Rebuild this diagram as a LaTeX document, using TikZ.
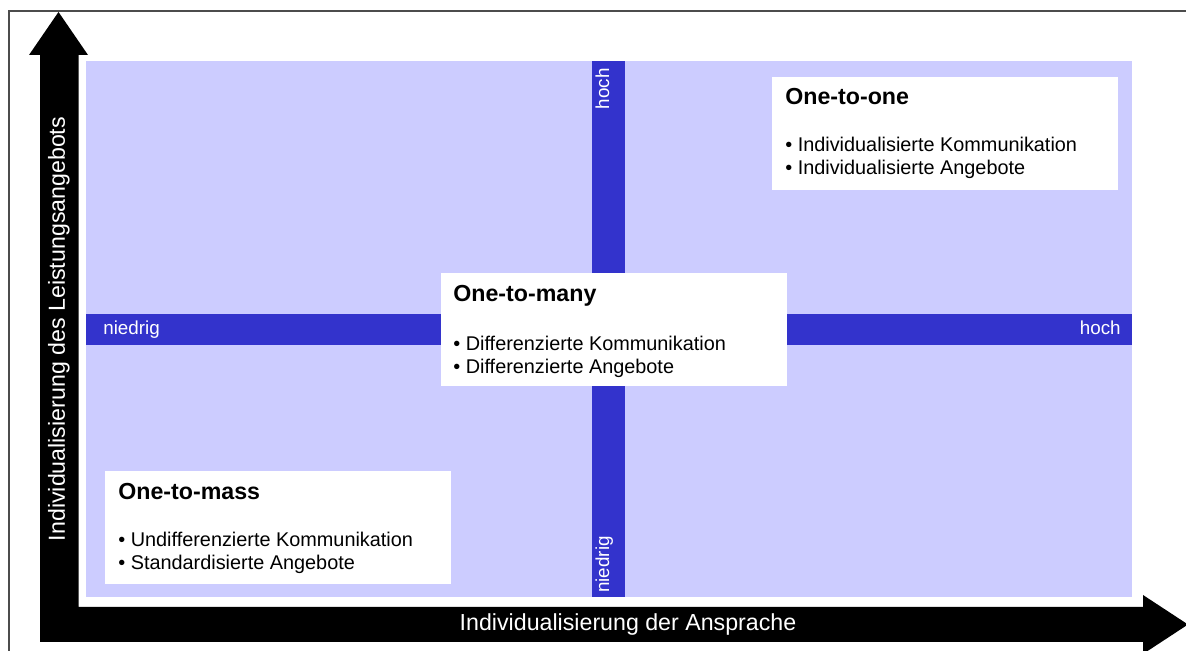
\documentclass[tikz,border=0pt]{standalone}
\usepackage{fontspec}
\setmainfont{Liberation Sans}
\definecolor{quadbg}{HTML}{CCCCFF}
\definecolor{crossbar}{HTML}{3333CC}

\begin{document}
\begin{tikzpicture}[x=0.2mm, y=-0.2mm,
    qbox/.style={rectangle, fill=white, anchor=north west, inner sep=0pt, minimum width=69.2mm, minimum height=22.6mm},
    qtitle/.style={anchor=base west, inner sep=0pt, font=\fontsize{13.2}{15}\selectfont\bfseries},
    qitem/.style={anchor=base west, inner sep=0pt, font=\fontsize{11.3}{13}\selectfont},
    barlabel/.style={inner sep=0pt, text=white, font=\fontsize{10.7}{12}\selectfont},
    axislabel/.style={inner sep=0pt, text=white, font=\fontsize{13.2}{15}\selectfont}]
        \useasboundingbox (0,0) rectangle (1186,651);
        % frame
        \draw[black!70, line width=0.8pt] (9,651) -- (9,11) -- (1186,11);
        % axes
        \fill[black] (40,642) -- (40,55) -- (29,55) -- (58.5,12) -- (88,55) -- (78.5,55)
            -- (78.5,607) -- (1143,607) -- (1143,595) -- (1188,624.5) -- (1143,654)
            -- (1143,642) -- cycle;
        % quadrants and cross
        \fill[quadbg] (86,61) rectangle (1132,597);
        \fill[crossbar] (592,61) rectangle (625,597);
        \fill[crossbar] (86,314) rectangle (1132,345);
        \node[barlabel, anchor=base west] (xlow) at (103,335) {niedrig};
        \node[barlabel, anchor=base east] (xhigh) at (1121,335) {hoch};
        \node[barlabel, anchor=base east, rotate=90] (ylow) at (609,68) {hoch};
        \node[barlabel, anchor=base west, rotate=90] (yhigh) at (609,593) {niedrig};
        % boxes
        \node[qbox] (one) at (772,77) {};
        \node[qbox] (many) at (441,273) {};
        \node[qbox] (mass) at (105,471) {};
        \node[qtitle] (one title) at (785,105) {One-to-one};
        \node[qitem] (one a) at (785,152) {• Individualisierte Kommunikation};
        \node[qitem] (one b) at (785,175) {• Individualisierte Angebote};
        \node[qtitle] (many title) at (453,302) {One-to-many};
        \node[qitem] (many a) at (453,351) {• Differenzierte Kommunikation};
        \node[qitem] (many b) at (453,374) {• Differenzierte Angebote};
        \node[qtitle] (mass title) at (118,500) {One-to-mass};
        \node[qitem] (mass a) at (118,547) {• Undifferenzierte Kommunikation};
        \node[qitem] (mass b) at (118,570) {• Standardisierte Angebote};
        % axis labels
        \node[axislabel, rotate=90] (ylabel) at (59,329) {Individualisierung des Leistungsangebots};
        \node[axislabel] (xlabel) at (628,625) {Individualisierung der Ansprache};
    \end{tikzpicture}
\end{document}
